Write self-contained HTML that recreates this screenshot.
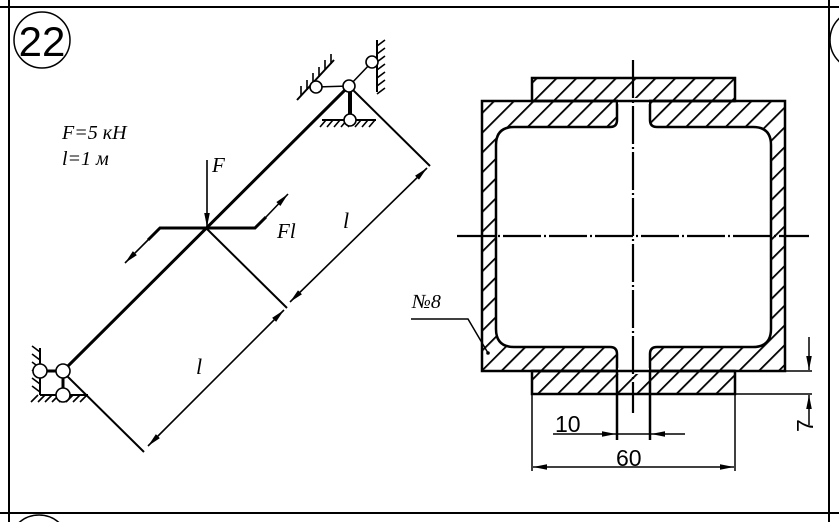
<!DOCTYPE html>
<html><head><meta charset="utf-8"><style>
html,body{margin:0;padding:0;background:#fff;overflow:hidden;width:839px;height:522px;}
svg{display:block;}
.it{font-family:"Liberation Serif",serif;font-style:italic;}
.sn{font-family:"Liberation Sans",sans-serif;font-style:normal;}
</style></head><body>
<svg width="839" height="522" viewBox="0 0 839 522" xmlns="http://www.w3.org/2000/svg">
<defs>
<pattern id="h" patternUnits="userSpaceOnUse" width="14" height="14" patternTransform="rotate(45)">
<rect x="0" y="0" width="1.8" height="14" fill="#000"/>
</pattern>
<marker id="a" viewBox="0 0 10 10" refX="10" refY="5" markerWidth="14" markerHeight="14" markerUnits="userSpaceOnUse" orient="auto-start-reverse">
<path d="M0,3 L10,5 L0,7 Z" fill="#000"/>
</marker>
</defs>
<g stroke="#000" stroke-width="2" fill="none">
<line x1="0" y1="7" x2="839" y2="7"/>
<line x1="0" y1="513" x2="839" y2="513"/>
<line x1="9" y1="0" x2="9" y2="522"/>
<line x1="829" y1="0" x2="829" y2="522"/>
</g>
<circle cx="42" cy="40" r="28" fill="none" stroke="#000" stroke-width="1.5"/>
<text class="sn" x="42" y="56" text-anchor="middle" font-size="42">22</text>
<circle cx="860" cy="40" r="30" fill="none" stroke="#000" stroke-width="1.5"/>
<circle cx="39" cy="545" r="30" fill="none" stroke="#000" stroke-width="1.5"/>

<text class="it" x="62" y="139" font-size="20">F=5 кН</text>
<text class="it" x="62" y="165" font-size="20">l=1 м</text>

<g stroke="#000" fill="none">
<line x1="63" y1="371" x2="349" y2="86" stroke-width="3"/>
<line x1="353" y1="90" x2="430" y2="166" stroke-width="2"/>
<line x1="206" y1="228" x2="287" y2="308" stroke-width="2"/>
<line x1="65" y1="374" x2="144" y2="452" stroke-width="2"/>
<line x1="290" y1="302" x2="427" y2="168" stroke-width="1.6" marker-start="url(#a)" marker-end="url(#a)"/>
<line x1="148" y1="446" x2="284" y2="310" stroke-width="1.6" marker-start="url(#a)" marker-end="url(#a)"/>
<line x1="207" y1="160" x2="207" y2="227" stroke-width="1.6" marker-end="url(#a)"/>
<polyline points="148,240 160,228 255,228 266,217" stroke-width="3"/>
<line x1="148" y1="240" x2="125" y2="263" stroke-width="1.6" marker-end="url(#a)"/>
<line x1="266" y1="217" x2="288" y2="194" stroke-width="1.6" marker-end="url(#a)"/>
</g>
<text class="it" x="212" y="172" font-size="21">F</text>
<text class="it" x="277" y="238" font-size="21">Fl</text>
<text class="it" x="343" y="228" font-size="22">l</text>
<text class="it" x="196" y="374" font-size="22">l</text>

<g stroke="#000" fill="none" stroke-width="1.6">
<line x1="316" y1="87" x2="349" y2="86"/>
<line x1="349" y1="86" x2="372" y2="62"/>
<line x1="350" y1="90" x2="350" y2="118" stroke-width="4"/>
<line x1="297" y1="100" x2="334" y2="60" stroke-width="2"/>
<path d="M301,96 l0,-10 M307,90 l0,-10 M313,83 l0,-10 M319,77 l0,-10 M325,70 l0,-10 M331,64 l0,-10"/>
<line x1="377" y1="40" x2="377" y2="92" stroke-width="2"/>
<path d="M377,46 l8,-6 M377,54 l8,-6 M377,62 l8,-6 M377,70 l8,-6 M377,78 l8,-6 M377,86 l8,-6 M377,94 l8,-6"/>
<line x1="322" y1="120" x2="376" y2="120" stroke-width="2"/>
<path d="M326,120 l-6,7 M333,120 l-6,7 M340,120 l-6,7 M347,120 l-6,7 M354,120 l-6,7 M361,120 l-6,7 M368,120 l-6,7 M375,120 l-6,7"/>
</g>
<g stroke="#000" fill="#fff" stroke-width="1.6">
<circle cx="316" cy="87" r="6"/><circle cx="372" cy="62" r="6"/><circle cx="350" cy="120" r="6"/><circle cx="349" cy="86" r="6"/>
</g>

<g stroke="#000" fill="none" stroke-width="1.6">
<line x1="40" y1="371" x2="63" y2="371" stroke-width="3"/>
<line x1="63" y1="371" x2="63" y2="395" stroke-width="3"/>
<line x1="40" y1="348" x2="40" y2="395" stroke-width="2"/>
<line x1="40" y1="395" x2="88" y2="395" stroke-width="2"/>
<path d="M40,352 l-8,-6 M40,360 l-8,-6 M40,368 l-8,-6 M40,376 l-8,-6 M40,384 l-8,-6 M40,392 l-8,-6 M38,395 l-7,7 M45,395 l-7,7 M52,395 l-7,7 M59,395 l-7,7 M66,395 l-7,7 M73,395 l-7,7 M80,395 l-7,7 M87,395 l-7,7"/>
</g>
<g stroke="#000" fill="#fff" stroke-width="1.6">
<circle cx="40" cy="371" r="7"/><circle cx="63" cy="371" r="7"/><circle cx="63" cy="395" r="7"/>
</g>

<g stroke="#000" stroke-width="2.5">
<rect x="532" y="78" width="203" height="23" fill="url(#h)"/>
<rect x="532" y="371" width="203" height="23" fill="url(#h)"/>
<path fill="url(#h)" fill-rule="evenodd" d="M482,101 H785 V371 H482 Z M617,101 V120 Q617,127 610,127 H514 Q496,127 496,145 V329 Q496,347 514,347 H610 Q617,347 617,354 V371 H650 V354 Q650,347 657,347 H753 Q771,347 771,329 V145 Q771,127 753,127 H657 Q650,127 650,120 V101 Z"/>
</g>
<rect x="618" y="98" width="31" height="6" fill="#fff"/>
<rect x="618" y="368" width="31" height="6" fill="#fff"/>
<line x1="532" y1="101" x2="735" y2="101" stroke="#000" stroke-width="2.5"/>
<line x1="532" y1="371" x2="735" y2="371" stroke="#000" stroke-width="2.5"/>
<g stroke="#000" stroke-width="2.2">
<line x1="633" y1="60" x2="633" y2="413" stroke-dasharray="38,3,2,3"/>
<line x1="457" y1="236" x2="809" y2="236" stroke-dasharray="38,3,2,3"/>
</g>
<g stroke="#000" fill="none" stroke-width="1.5">
<line x1="617" y1="371" x2="617" y2="440" stroke-width="2.5"/>
<line x1="650" y1="371" x2="650" y2="440" stroke-width="2.5"/>
<line x1="553" y1="434" x2="616" y2="434" marker-end="url(#a)"/>
<line x1="685" y1="434" x2="651" y2="434" marker-end="url(#a)"/>
<line x1="617" y1="434" x2="650" y2="434"/>
<line x1="532" y1="394" x2="532" y2="471"/>
<line x1="735" y1="394" x2="735" y2="471"/>
<line x1="533" y1="467" x2="734" y2="467" marker-start="url(#a)" marker-end="url(#a)"/>
<line x1="735" y1="371" x2="812" y2="371"/>
<line x1="735" y1="394" x2="812" y2="394"/>
<line x1="809" y1="337" x2="809" y2="370" marker-end="url(#a)"/>
<line x1="809" y1="425" x2="809" y2="395" marker-end="url(#a)"/>
<polyline points="411,319 468,319 488,353"/>
</g>
<circle cx="488" cy="353" r="1.8" fill="#000"/>
<text class="sn" x="555" y="432" font-size="23">10</text>
<text class="sn" x="616" y="466" font-size="23">60</text>
<text class="sn" transform="translate(813,432) rotate(-90)" font-size="23">7</text>
<text class="it" x="412" y="308" font-size="20">№8</text>
</svg>
</body></html>
